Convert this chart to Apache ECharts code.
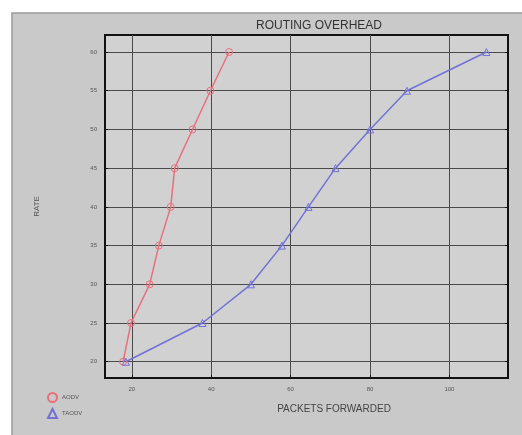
<!DOCTYPE html>
<html><head><meta charset="utf-8">
<script src="https://cdn.jsdelivr.net/npm/echarts@6/dist/echarts.min.js"></script>
<style>html,body{margin:0;padding:0;background:#fff}#c{width:522px;height:435px}</style>
</head><body><div id="c"></div>
<script>
const xTicks = [20, 40, 60, 80, 100];
const yTicks = [20, 25, 30, 35, 40, 45, 50, 55, 60];
const aodvX = [17.8, 19.8, 24.5, 26.8, 29.8, 30.8, 35.3, 39.8, 44.5];
const aodvY = [20, 25, 30, 35, 40, 45, 50, 55, 60];
const taodvX = [18.5, 37.8, 50, 57.8, 64.5, 71.3, 80, 89.3, 109.3];
const taodvY = [20, 25, 30, 35, 40, 45, 50, 55, 60];
const seriesNames = ['AODV', 'TAODV'];
const xName = 'PACKETS FORWARDED';
const yName = 'RATE';
const titleText = 'ROUTING OVERHEAD';

const font = 'Liberation Sans Narrow, Liberation Sans, sans-serif';
const red = '#e8707c', blue = '#7272d6';
const chart = echarts.init(document.getElementById('c'), null, {renderer: 'canvas'});
const pair = (xs, ys) => xs.map((x, i) => [x, ys[i]]);
chart.setOption({
  animation: false,
  backgroundColor: '#ffffff',
  graphic: [
    {type: 'rect', shape: {x: 12, y: 13, width: 512, height: 424}, style: {fill: '#c9c9c9', stroke: '#9a9a9a', lineWidth: 1.5}, z: -10, silent: true},
    {type: 'text', x: 334, y: 409, style: {text: xName, fontFamily: font, fontSize: 10, fill: '#444', align: 'center', verticalAlign: 'middle'}, silent: true}
  ],
  title: {
    text: titleText, left: 314, top: 15, textAlign: 'center',
    textStyle: {fontFamily: font, fontSize: 12, fontWeight: 'normal', color: '#333'}
  },
  legend: {
    orient: 'vertical', left: 42, top: 387, itemWidth: 9, itemHeight: 9, itemGap: 5,
    data: [{name: seriesNames[0], icon: 'circle'}, {name: seriesNames[1], icon: 'triangle'}],
    textStyle: {fontFamily: font, fontSize: 6, color: '#555'}
  },
  grid: {left: 105, top: 35, right: 14, bottom: 57, show: true, backgroundColor: '#d1d1d1', borderColor: '#111', borderWidth: 2},
  xAxis: {
    type: 'value', min: 13.25, max: 114.75,
    axisLine: {show: false},
    axisTick: {show: true, inside: true, length: 3, customValues: xTicks, lineStyle: {color: '#111'}},
    axisLabel: {customValues: xTicks, fontFamily: font, fontSize: 6, color: '#555', margin: 8},
    splitLine: {show: true, lineStyle: {color: '#4a4a4a', width: 1}}
  },
  yAxis: [{
    type: 'value', min: 17.9, max: 62.2,
    name: yName, nameLocation: 'middle', nameGap: 64, nameRotate: 90,
    nameTextStyle: {fontFamily: font, fontSize: 8, color: '#555'},
    axisLine: {show: false},
    axisTick: {show: true, inside: true, length: 3, customValues: yTicks, lineStyle: {color: '#111'}},
    axisLabel: {customValues: yTicks, fontFamily: font, fontSize: 6, color: '#555', margin: 8},
    splitLine: {show: true, lineStyle: {color: '#4a4a4a', width: 1}}
  }, {
    type: 'value', min: 17.9, max: 62.2, position: 'right',
    axisLine: {show: false},
    axisTick: {show: true, inside: true, length: 3, customValues: yTicks, lineStyle: {color: '#111'}},
    axisLabel: {show: false}, splitLine: {show: false}
  }],
  series: [
    {name: seriesNames[0], type: 'line', data: pair(aodvX, aodvY), symbol: 'circle', symbolSize: 7,
     lineStyle: {color: red, width: 1.5}, itemStyle: {color: 'rgba(0,0,0,0)', borderColor: red, borderWidth: 1}},
    {name: seriesNames[1], type: 'line', data: pair(taodvX, taodvY), symbol: 'triangle', symbolSize: 7,
     lineStyle: {color: blue, width: 1.5}, itemStyle: {color: 'rgba(0,0,0,0)', borderColor: blue, borderWidth: 1}}
  ]
});
</script></body></html>
